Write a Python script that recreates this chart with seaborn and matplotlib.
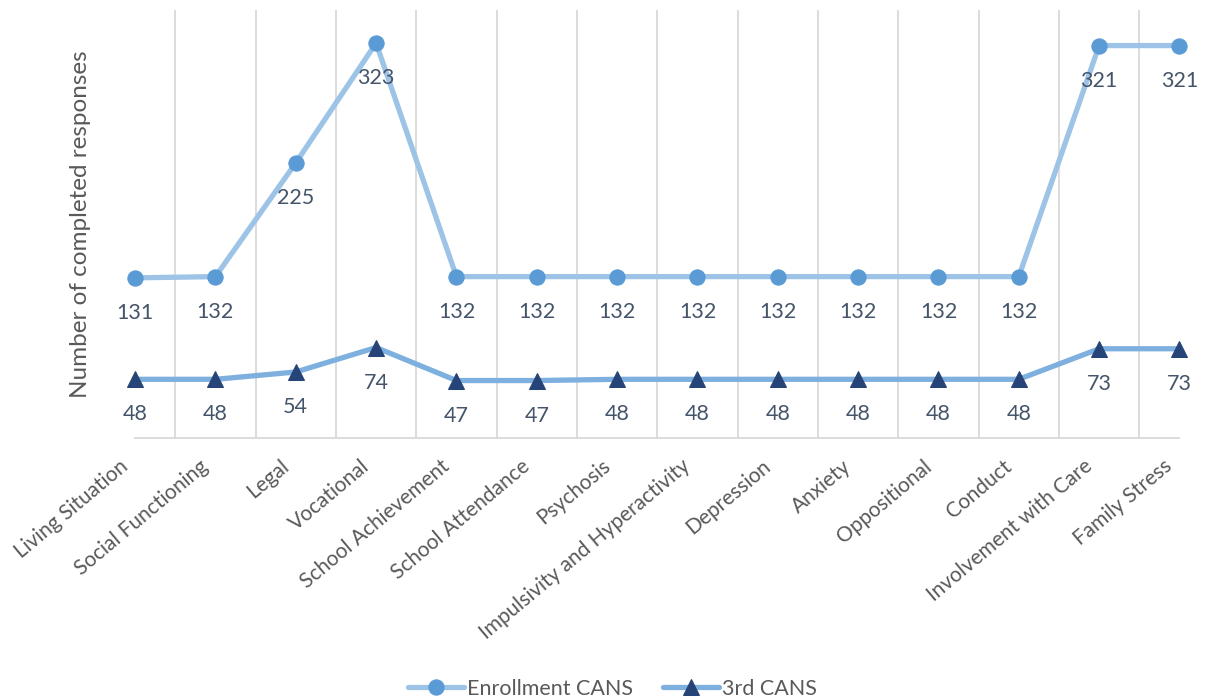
import matplotlib
matplotlib.use("Agg")
import matplotlib.pyplot as plt
import matplotlib.transforms as mtransforms
import seaborn as sns
import pandas as pd
import numpy as np

categories = [
    "Living Situation", "Social Functioning", "Legal", "Vocational",
    "School Achievement", "School Attendance", "Psychosis",
    "Impulsivity and Hyperactivity", "Depression", "Anxiety",
    "Oppositional", "Conduct", "Involvement with Care", "Family Stress",
]
enrollment = [131, 132, 225, 323, 132, 132, 132, 132, 132, 132, 132, 132, 321, 321]
third = [48, 48, 54, 74, 47, 47, 48, 48, 48, 48, 48, 48, 73, 73]
series_names = ["Enrollment CANS", "3rd CANS"]

sns.set_theme(style="white")
plt.rcParams["font.family"] = ["Lato", "DejaVu Sans"]

df = pd.DataFrame({
    "pos": list(range(len(categories))) * 2,
    "value": enrollment + third,
    "series": [series_names[0]] * len(categories) + [series_names[1]] * len(categories),
})

fig = plt.figure(figsize=(12.06, 6.98), dpi=100)
ax = fig.add_axes([0.112, 0.3725, 0.866, 0.613])

line_colors = {"Enrollment CANS": "#9DC3E6", "3rd CANS": "#7EB0DF"}
marker_colors = {"Enrollment CANS": "#5B9BD5", "3rd CANS": "#264478"}
markers = {"Enrollment CANS": "o", "3rd CANS": "^"}

for name in series_names:
    sub = df[df["series"] == name]
    sns.lineplot(data=sub, x="pos", y="value", ax=ax, color=line_colors[name],
                 linewidth=3.8, marker=markers[name], markersize=11,
                 markerfacecolor=marker_colors[name], markeredgecolor=marker_colors[name],
                 label=name, zorder=3, clip_on=False)
    for x, y in zip(sub["pos"], sub["value"]):
        ax.annotate(str(y), (x, y), xytext=(0, -35), textcoords="offset pixels",
                    ha="center", va="center", fontsize=15.5, color="#44546A", zorder=4)

ax.set_xlim(0, len(categories) - 1)
ax.set_ylim(0, 350)
ax.set_yticks([])
ax.set_xticks(range(len(categories)))
ax.set_xticklabels(categories, rotation=40, ha="right", rotation_mode="anchor",
                   fontsize=15, color="#595959")
ax.tick_params(axis="x", length=0, pad=13)
# nudge the slanted category labels left so they end just short of their tick
shift = mtransforms.ScaledTranslation(-16 / 100, 0, fig.dpi_scale_trans)
for lbl in ax.get_xticklabels():
    lbl.set_transform(lbl.get_transform() + shift)

for b in np.arange(0.5, len(categories) - 1, 1.0):
    ax.axvline(b, color="#D9D9D9", linewidth=1.3, zorder=1)

for s in ["top", "right", "left"]:
    ax.spines[s].set_visible(False)
ax.spines["bottom"].set_color("#D9D9D9")
ax.spines["bottom"].set_linewidth(1.3)

ax.set_xlabel("")
ax.set_ylabel("Number of completed responses", fontsize=17.5, color="#595959", labelpad=32)

leg = ax.legend(loc="lower center", bbox_to_anchor=(0.457, -0.655),
                ncol=2, frameon=False, fontsize=15.5, handlelength=2.6, columnspacing=1.4,
                handletextpad=0.15)
for t in leg.get_texts():
    t.set_color("#595959")

fig.savefig("out.png", dpi=100)
